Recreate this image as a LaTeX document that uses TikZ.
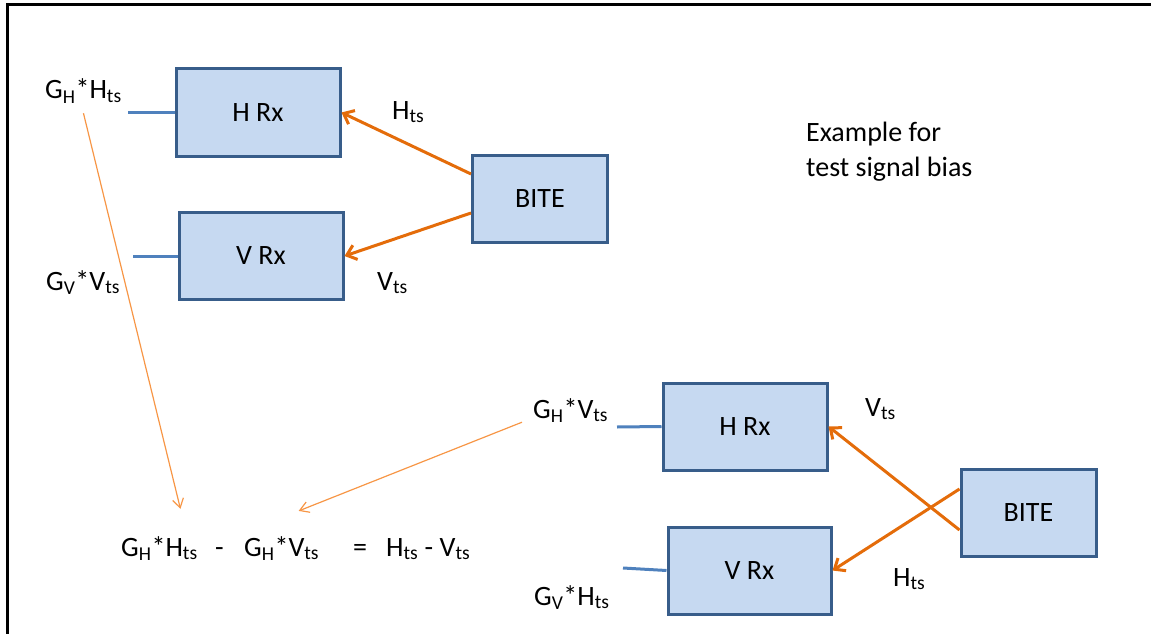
\documentclass[tikz,border=0pt]{standalone}
\usepackage{fontspec}
\setmainfont{Carlito}
\usetikzlibrary{arrows.meta}
\definecolor{rxfill}{HTML}{C6D9F1}
\definecolor{rxdraw}{HTML}{385D8A}
\definecolor{stubblue}{HTML}{4F81BD}
\definecolor{tsorange}{HTML}{E46C0A}
\definecolor{thinorange}{HTML}{F79646}
\tikzset{
  rx/.style={draw=rxdraw, fill=rxfill, line width=3pt, minimum width=164pt,
    minimum height=87pt, inner sep=0pt},
  bite/.style={rx, minimum width=135pt},
  lbl/.style={anchor=base west, inner sep=0pt},
  stub/.style={draw=stubblue, line width=3pt},
  ts/.style={draw=tsorange, line width=3pt, -{Straight Barb[length=9pt,width=15pt]}},
  diff/.style={draw=thinorange, line width=1.2pt, -{Straight Barb[length=9pt,width=11pt]}},
}

\begin{document}
\begin{tikzpicture}[x=1pt, y=-1pt, font=\fontsize{28}{35}\selectfont]
\useasboundingbox (0,0) rectangle (1151,634);
\draw[line width=3pt] (7,634) -- (7,5) -- (1151,5);

\node[rx] (hrxA) at (258,112.5) {H Rx};
\node[rx] (vrxA) at (261,256) {V Rx};
\node[bite] (biteA) at (540,198.5) {BITE};
\coordinate (sA) at (128,112.5);
\coordinate (sB) at (133,256);
\draw[stub] (sA) -- (hrxA.west);
\draw[stub] (sB) -- (vrxA.west);
\draw[ts] ([yshift=24.5pt]biteA.west) -- (hrxA.east);
\draw[ts] ([yshift=-14.5pt]biteA.west) -- (vrxA.east);
\node[lbl] (ghA) at (45,99) {G\textsubscript{H}*H\textsubscript{ts}};
\node[lbl] (gvA) at (46,290) {G\textsubscript{V}*V\textsubscript{ts}};
\node[lbl] (htsA) at (392,119) {H\textsubscript{ts}};
\node[lbl] (vtsA) at (377,290) {V\textsubscript{ts}};

\node[lbl, align=left] (note) at (806,176) {Example for\\test signal bias};

\node[rx] (hrxB) at (745,426.5) {H Rx};
\node[rx, minimum width=163pt] (vrxB) at (749.5,570.5) {V Rx};
\node[bite] (biteB) at (1028.5,513) {BITE};
\coordinate (sC) at (617,427);
\coordinate (sD) at (623,568);
\draw[stub] (sC) -- (hrxB.west);
\draw[stub] (sD) -- (vrxB.west);
\draw[ts] ([yshift=-17pt]biteB.west) -- (hrxB.east);
\draw[ts] ([yshift=24pt]biteB.west) -- (vrxB.east);
\node[lbl] (ghB) at (533,418) {G\textsubscript{H}*V\textsubscript{ts}};
\node[lbl] (gvB) at (534,605) {G\textsubscript{V}*H\textsubscript{ts}};
\node[lbl] (vtsB) at (865,416) {V\textsubscript{ts}};
\node[lbl] (htsB) at (893,586) {H\textsubscript{ts}};

\node[lbl] (eqA) at (121,556) {G\textsubscript{H}*H\textsubscript{ts}};
\node[lbl] (minus) at (215,556) {-};
\node[lbl] (eqB) at (244,556) {G\textsubscript{H}*V\textsubscript{ts}};
\node[lbl] (equals) at (353,556) {=};
\node[lbl] (rhs) at (386,556) {H\textsubscript{ts} - V\textsubscript{ts}};

\draw[diff] ([yshift=-10pt]ghA.south) -- ([xshift=21pt,yshift=27pt]eqA.north);
\draw[diff] ([xshift=-11pt]ghB.south west) -- ([xshift=17pt,yshift=25pt]eqB.north);
\end{tikzpicture}
\end{document}
